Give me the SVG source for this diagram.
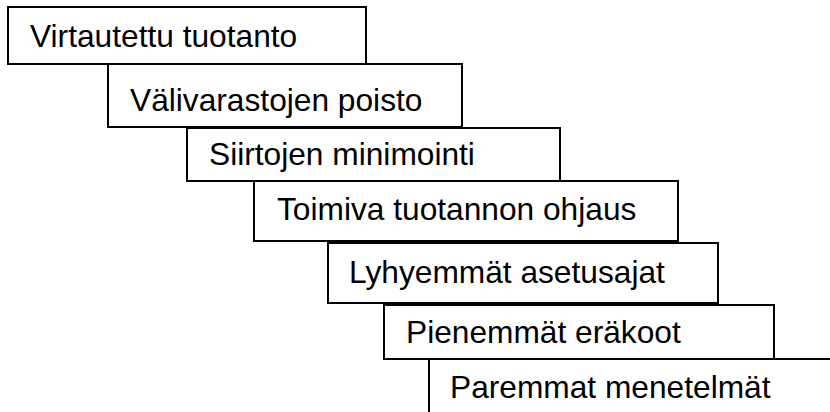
<svg xmlns="http://www.w3.org/2000/svg" width="830" height="412" viewBox="0 0 830 412">
  <style>
    .box { fill: #ffffff; stroke: #000000; stroke-width: 2; }
    .label { font-family: "Liberation Sans", Arial, sans-serif; font-size: 31.7px; fill: #000000; }
  </style>
  <rect width="830" height="412" fill="#ffffff"/>
  <g id="virtautettu-tuotanto">
    <rect class="box" x="8" y="7" width="358" height="57"/>
    <text class="label" x="30" y="47">Virtautettu tuotanto</text>
  </g>
  <g id="valivarastojen-poisto">
    <rect class="box" x="108" y="64" width="354" height="63"/>
    <text class="label" x="130" y="111">Välivarastojen poisto</text>
  </g>
  <g id="siirtojen-minimointi">
    <rect class="box" x="187" y="128" width="373" height="53"/>
    <text class="label" x="209" y="165">Siirtojen minimointi</text>
  </g>
  <g id="toimiva-tuotannon-ohjaus">
    <rect class="box" x="254" y="181" width="424" height="60"/>
    <text class="label" x="277" y="220">Toimiva tuotannon ohjaus</text>
  </g>
  <g id="lyhyemmat-asetusajat">
    <rect class="box" x="328" y="243" width="390" height="60"/>
    <text class="label" x="349" y="283">Lyhyemmät asetusajat</text>
  </g>
  <g id="pienemmat-erakoot">
    <rect class="box" x="384" y="305" width="390" height="54"/>
    <text class="label" x="406" y="343">Pienemmät eräkoot</text>
  </g>
  <g id="paremmat-menetelmat">
    <rect class="box" x="429" y="359" width="420" height="70"/>
    <text class="label" x="450" y="398">Paremmat menetelmät</text>
  </g>
  <g id="connectors"/>
</svg>
